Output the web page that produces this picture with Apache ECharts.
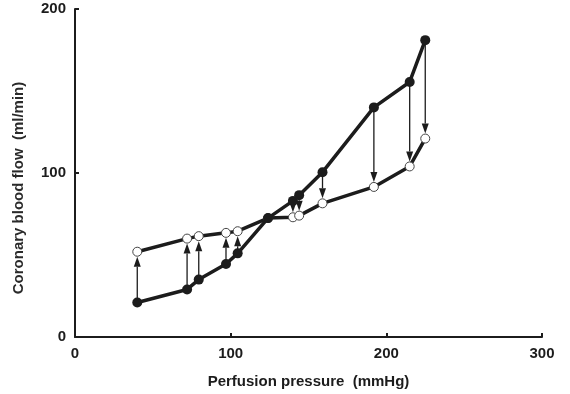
<!DOCTYPE html>
<html>
<head>
<meta charset="utf-8">
<script src="https://cdn.jsdelivr.net/npm/echarts@6/dist/echarts.min.js"></script>
<style>
  html, body { margin: 0; padding: 0; background: #fff; }
  #chart { width: 570px; height: 394px; }
</style>
</head>
<body>
<div id="chart"></div>
<script>
// perfusion pressure (mmHg) for each measurement
const pressure = [40, 72, 79.5, 97, 104.5, 124, 140, 144, 159, 192, 215, 225];
// closed circles: flow before the change
const closedFlow = [21, 29, 35, 44.5, 51, 72.5, 83, 86.5, 100.5, 140, 155.5, 181];
// open circles: flow after the change
const openFlow = [52, 60, 61.5, 63.5, 64.5, 72.5, 73, 74, 81.5, 91.5, 104, 121];

const xTicks = [0, 300, 100];
const yTicks = [0, 200, 100];

const ink = "#1c1c1c";
const font = "'Liberation Sans', Arial, sans-serif";

const arrowRows = pressure
  .map((p, i) => [p, closedFlow[i], openFlow[i]])
  .filter((row) => row[1] !== row[2]);

function renderArrow(params, api) {
  const from = api.coord([api.value(0), api.value(1)]);
  const to = api.coord([api.value(0), api.value(2)]);
  const dir = to[1] > from[1] ? 1 : -1;
  const tipY = to[1] - dir * 5;
  const baseY = tipY - dir * 10;
  return {
    type: "group",
    children: [
      {
        type: "line",
        shape: { x1: from[0], y1: from[1], x2: from[0], y2: baseY },
        style: { stroke: ink, lineWidth: 1.3 }
      },
      {
        type: "polygon",
        shape: { points: [[to[0], tipY], [to[0] - 3.5, baseY], [to[0] + 3.5, baseY]] },
        style: { fill: ink }
      }
    ]
  };
}

const chart = echarts.init(document.getElementById("chart"));
chart.setOption({
  animation: false,
  grid: { left: 75, right: 28, top: 9, bottom: 57 },
  xAxis: {
    type: "value",
    min: xTicks[0],
    max: xTicks[1],
    interval: xTicks[2],
    name: "Perfusion pressure  (mmHg)",
    nameLocation: "middle",
    nameGap: 37,
    nameTextStyle: { fontFamily: font, fontSize: 15, fontWeight: "bold", color: ink },
    axisLine: { lineStyle: { color: ink, width: 2 } },
    axisTick: { inside: true, length: 4, lineStyle: { color: ink, width: 2 } },
    axisLabel: { margin: 9, fontFamily: font, fontSize: 15, fontWeight: "bold", color: ink },
    splitLine: { show: false }
  },
  yAxis: {
    type: "value",
    min: yTicks[0],
    max: yTicks[1],
    interval: yTicks[2],
    name: "Coronary blood flow  (ml/min)",
    nameLocation: "middle",
    nameGap: 49,
    nameTextStyle: { fontFamily: font, fontSize: 15, fontWeight: "bold", color: "#2a2a2a", padding: [0, 30, 0, 0] },
    axisLine: { lineStyle: { color: ink, width: 2 } },
    axisTick: { inside: true, length: 4, lineStyle: { color: ink, width: 2 } },
    axisLabel: { margin: 9, fontFamily: font, fontSize: 15, fontWeight: "bold", color: ink },
    splitLine: { show: false }
  },
  series: [
    {
      type: "custom",
      z: 1,
      clip: false,
      renderItem: renderArrow,
      encode: { x: 0, y: [1, 2] },
      data: arrowRows
    },
    {
      name: "open",
      type: "line",
      z: 2,
      data: pressure.map((p, i) => [p, openFlow[i]]),
      symbol: "circle",
      symbolSize: 9,
      showAllSymbol: true,
      lineStyle: { color: ink, width: 3.5 },
      itemStyle: { color: "#fff", borderColor: "#444", borderWidth: 1 }
    },
    {
      name: "closed",
      type: "line",
      z: 3,
      data: pressure.map((p, i) => [p, closedFlow[i]]),
      symbol: "circle",
      symbolSize: 10,
      showAllSymbol: true,
      lineStyle: { color: ink, width: 3.5 },
      itemStyle: { color: ink, borderColor: ink, borderWidth: 0 }
    }
  ]
});
</script>
</body>
</html>
